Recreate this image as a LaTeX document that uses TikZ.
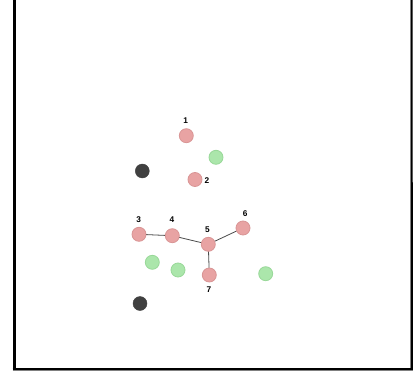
\documentclass[tikz,border=0pt]{standalone}
\usepackage{fontspec}
\setmainfont{Liberation Sans}
\definecolor{pinkfill}{HTML}{E8A3A3}
\definecolor{pinkline}{HTML}{D99595}
\definecolor{greenfill}{HTML}{ABE6AB}
\definecolor{greenline}{HTML}{98D898}
\definecolor{darkdot}{HTML}{404040}
\definecolor{edgecol}{HTML}{4A4A4A}
\begin{document}
\begin{tikzpicture}[x=1pt,y=-1pt,
  pinknode/.style={circle,fill=pinkfill,draw=pinkline,line width=0.8pt,minimum size=14pt,inner sep=0pt},
  greennode/.style={circle,fill=greenfill,draw=greenline,line width=0.8pt,minimum size=14pt,inner sep=0pt},
  darknode/.style={circle,fill=darkdot,draw=darkdot,minimum size=14pt,inner sep=0pt},
  lbl/.style={font=\fontsize{8.3}{9}\selectfont\bfseries,inner sep=0pt,text=black},
  edge/.style={draw=edgecol,line width=0.8pt}]
\useasboundingbox (0,0) rectangle (413,375);
\fill[white] (0,0) rectangle (413,375);
% frame
\coordinate (fTL) at (14,0);
\coordinate (fBL) at (14,369);
\coordinate (fBR) at (411.5,369);
\coordinate (fTR) at (411.5,0);
\draw[line width=3pt,black] (fTL) -- (fBL);
\draw[line width=3pt,black] (12.5,369) -- (412.5,369);
\draw[line width=1pt,gray] (12.5,370.8) -- (413,370.8);
\draw[line width=2pt,black] (fTR) -- (412,368);
\draw[line width=0.8pt,gray] (410.6,0) -- (410.6,368);
% edges first
\coordinate (p3) at (139,234.3);
\coordinate (p4) at (172.3,235.7);
\coordinate (p5) at (208.3,244.3);
\coordinate (p6) at (243,228);
\coordinate (p7) at (209.3,275);
\draw[edge] (p3) -- (p4) -- (p5) -- (p6);
\draw[edge] (p5) -- (p7);
% nodes
\node[pinknode] (n1) at (186.3,135.7) {};
\node[pinknode] (n2) at (195,179.5) {};
\node[pinknode] (n3) at (p3) {};
\node[pinknode] (n4) at (p4) {};
\node[pinknode] (n5) at (p5) {};
\node[pinknode] (n6) at (p6) {};
\node[pinknode] (n7) at (p7) {};
\node[greennode] (g1) at (216,157.3) {};
\node[greennode] (g2) at (152.3,262.3) {};
\node[greennode] (g3) at (178,270) {};
\node[greennode] (g4) at (265.7,273.7) {};
\node[darknode] (d1) at (142.3,171) {};
\node[darknode] (d2) at (140,303.5) {};
% labels
\node[lbl] (l1) at (185.7,121) {1};
\node[lbl] (l2) at (207,180.5) {2};
\node[lbl] (l3) at (138.7,219.3) {3};
\node[lbl] (l4) at (172,219.3) {4};
\node[lbl] (l5) at (207.5,230) {5};
\node[lbl] (l6) at (245.3,213.3) {6};
\node[lbl] (l7) at (209,290) {7};
\end{tikzpicture}
\end{document}
